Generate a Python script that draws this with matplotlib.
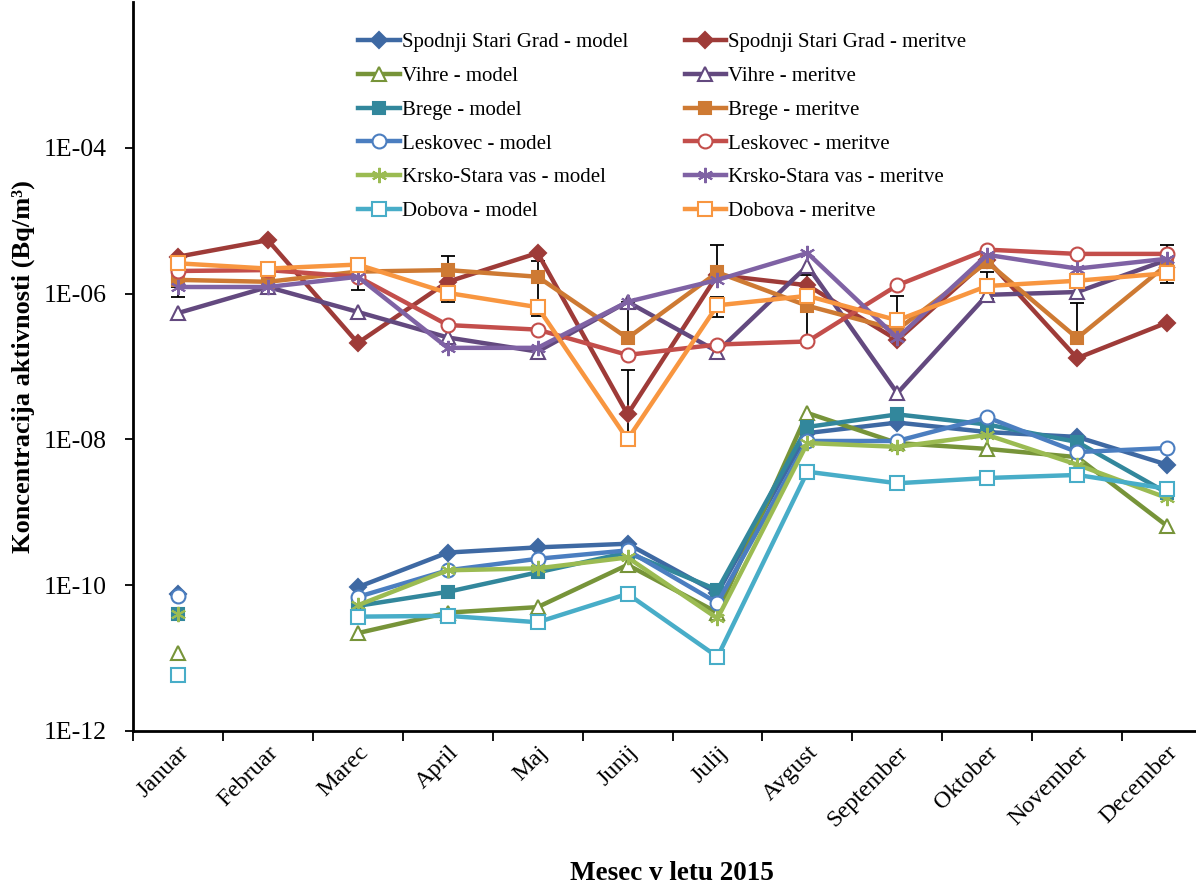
import numpy as np
import matplotlib
matplotlib.use('Agg')
import matplotlib.pyplot as plt
from matplotlib.ticker import FixedLocator, FuncFormatter

plt.rcParams['font.family'] = ['Liberation Serif', 'DejaVu Serif']

nan = np.nan
months = ['Januar', 'Februar', 'Marec', 'April', 'Maj', 'Junij', 'Julij',
          'Avgust', 'September', 'Oktober', 'November', 'December']

# model values (Bq/m3), no model for Februar
ssg_model = [7.5e-11, nan, 9.4e-11, 2.8e-10, 3.3e-10, 3.7e-10, 7.8e-11, 1.22e-8, 1.7e-8, 1.26e-8, 1.08e-8, 4.5e-9]
vih_model = [1.17e-11, nan, 2.2e-11, 4.2e-11, 5.0e-11, 1.9e-10, 4.2e-11, 2.3e-8, 8.9e-9, 7.4e-9, 5.7e-9, 6.5e-10]
bre_model = [4.0e-11, nan, 5.2e-11, 8.1e-11, 1.5e-10, 2.8e-10, 8.6e-11, 1.48e-8, 2.2e-8, 1.6e-8, 9.2e-9, 1.84e-9]
les_model = [7.0e-11, nan, 6.9e-11, 1.6e-10, 2.3e-10, 3.0e-10, 5.7e-11, 9.5e-9, 9.5e-9, 2.0e-8, 6.7e-9, 7.6e-9]
krs_model = [4.0e-11, nan, 5.3e-11, 1.6e-10, 1.7e-10, 2.4e-10, 3.5e-11, 8.9e-9, 7.9e-9, 1.15e-8, 4.5e-9, 1.57e-9]
dob_model = [5.9e-12, nan, 3.7e-11, 3.8e-11, 3.1e-11, 7.6e-11, 1.04e-11, 3.6e-9, 2.5e-9, 2.95e-9, 3.25e-9, 2.1e-9]

# measurements
ssg_meas = [3.2e-6, 5.4e-6, 2.1e-7, 1.45e-6, 3.6e-6, 2.2e-8, 1.8e-6, 1.3e-6, 2.3e-7, 2.9e-6, 1.3e-7, 4.0e-7]
vih_meas = [5.4e-7, 1.23e-6, 5.6e-7, 2.5e-7, 1.6e-7, 7.7e-7, 1.6e-7, 2.4e-6, 4.3e-8, 9.6e-7, 1.05e-6, 2.9e-6]
bre_meas = [1.54e-6, 1.45e-6, 2.0e-6, 2.1e-6, 1.7e-6, 2.45e-7, 1.95e-6, 6.8e-7, 3.2e-7, 2.7e-6, 2.45e-7, 2.5e-6]
les_meas = [2.04e-6, 2.1e-6, 1.7e-6, 3.7e-7, 3.2e-7, 1.44e-7, 2.0e-7, 2.2e-7, 1.3e-6, 4.0e-6, 3.5e-6, 3.5e-6]
krs_meas = [1.23e-6, 1.23e-6, 1.7e-6, 1.8e-7, 1.8e-7, 7.7e-7, 1.54e-6, 3.6e-6, 2.45e-7, 3.4e-6, 2.2e-6, 3.0e-6]
dob_meas = [2.6e-6, 2.2e-6, 2.5e-6, 1.02e-6, 6.5e-7, 1.0e-8, 6.9e-7, 9.3e-7, 4.3e-7, 1.27e-6, 1.5e-6, 1.9e-6]

# measurement uncertainty ranges (month index, low, high)
err_month = [0, 1, 2, 3, 4, 5, 5, 6, 6, 7, 8, 9, 10, 11]
err_low = [9.0e-7, 1.05e-6, 1.12e-6, 7.7e-7, 4.9e-7, 2.45e-7, 1.0e-8, 1.9e-6, 4.8e-7, 2.2e-7, 4.3e-7, 8.4e-7, 2.45e-7, 1.4e-6]
err_high = [1.23e-6, 1.23e-6, 1.7e-6, 3.3e-6, 2.8e-6, 7.7e-7, 9.0e-8, 4.6e-6, 9.0e-7, 1.8e-6, 9.3e-7, 2.0e-6, 7.4e-7, 4.6e-6]

stations = ['Spodnji Stari Grad', 'Vihre', 'Brege', 'Leskovec', 'Krsko-Stara vas', 'Dobova']
model_data = [ssg_model, vih_model, bre_model, les_model, krs_model, dob_model]
meas_data = [ssg_meas, vih_meas, bre_meas, les_meas, krs_meas, dob_meas]
model_colors = ['#3E69A3', '#779439', '#32879C', '#4B7EC0', '#9BBB52', '#48ADC8']
meas_colors = ['#9E3B38', '#63497F', '#CE7A33', '#C34E4B', '#7F62A4', '#F89640']
markers = ['D', '^', 's', 'o', (6, 2, 0), 's']
filled = [True, False, True, False, True, False]
msizes = [8, 10, 9, 10, 11, 10]

x = np.arange(len(months))

fig = plt.figure(figsize=(11.96, 8.84), dpi=100)
ax = fig.add_axes([0.1112, 0.1731, 0.9022, 0.8247])

ax.errorbar(x[err_month], err_low,
            yerr=[np.zeros(len(err_low)), np.array(err_high) - np.array(err_low)],
            fmt='none', ecolor='black', elinewidth=1.3, capsize=5, capthick=1.3, zorder=1)

model_handles, meas_handles = [], []
for i, name in enumerate(stations):
    for data, col, store, suffix in [(model_data[i], model_colors[i], model_handles, ' - model'),
                                    (meas_data[i], meas_colors[i], meas_handles, ' - meritve')]:
        if filled[i]:
            mfc, mec = col, col
        else:
            mfc, mec = 'white', col
        h, = ax.plot(x, data, color=col, lw=3.2, marker=markers[i], ms=msizes[i],
                     mfc=mfc, mec=mec, mew=1.5, label=name + suffix, zorder=2)
        store.append(h)

ax.set_yscale('log')
ax.set_ylim(1e-12, 1e-2)
ax.set_xlim(-0.5, 11.5)
ax.yaxis.set_major_locator(FixedLocator([1e-12, 1e-10, 1e-8, 1e-6, 1e-4]))
ax.yaxis.set_minor_locator(FixedLocator([]))
ax.yaxis.set_major_formatter(FuncFormatter(lambda v, p: '1E%03d' % int(round(np.log10(v)))))
ax.tick_params(axis='y', labelsize=18.5, length=6, width=1.3, direction='out', pad=13)

ax.set_xticks(x)
ax.set_xticklabels(months, rotation=45, ha='right', rotation_mode='anchor', fontsize=17.5)
ax.set_xticks(np.arange(-0.5, 12, 1), minor=True)
ax.tick_params(axis='x', which='major', length=0, pad=8)
ax.tick_params(axis='x', which='minor', length=7, width=1.3, direction='out')

for s in ['top', 'right']:
    ax.spines[s].set_visible(False)
for s in ['left', 'bottom']:
    ax.spines[s].set_linewidth(2)

ax.set_ylabel('Koncentracija aktivnosti (Bq/m³)', fontsize=19, fontweight='bold')
ax.yaxis.set_label_coords(-0.091, 0.5)
fig.text(0.5615, 0.0124, 'Mesec v letu 2015', fontsize=19.5, fontweight='bold', ha='center', va='center')

leg = fig.legend(handles=model_handles + meas_handles, ncol=2, frameon=False, fontsize=15,
                 loc='upper left', bbox_to_anchor=(0.284, 0.984), handlelength=2.0,
                 handletextpad=0.1, labelspacing=0.68, columnspacing=2.7)

fig.savefig('out.png', dpi=100)
